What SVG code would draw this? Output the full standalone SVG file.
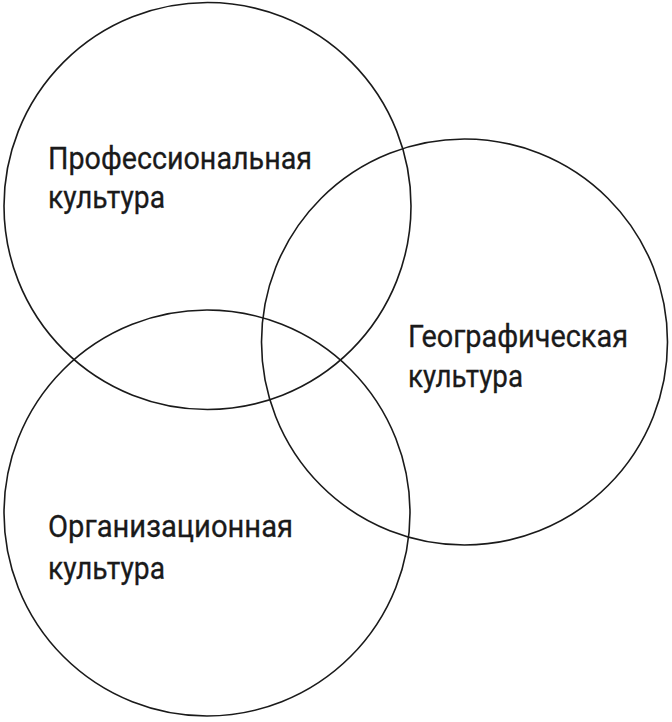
<svg xmlns="http://www.w3.org/2000/svg" width="672" height="722" viewBox="0 0 672 722">
<style>
.c{fill:none;stroke:#1a1a1a;stroke-width:1.6}
.t{font-family:Roboto,"Liberation Sans",sans-serif;font-size:31px;font-weight:400;fill:#1a1a1a;stroke:#1a1a1a;stroke-width:0.3}
</style>
<rect width="672" height="722" fill="#fff"/>
<g id="professional">
<circle class="c" cx="207.5" cy="206" r="203.5"/>
<text class="t" x="48" y="169" textLength="264" lengthAdjust="spacingAndGlyphs">Профессиональная</text>
<text class="t" x="48" y="208" textLength="117" lengthAdjust="spacingAndGlyphs">культура</text>
</g>
<g id="geographic">
<circle class="c" cx="464.5" cy="342" r="203"/>
<text class="t" x="408" y="347" textLength="220" lengthAdjust="spacingAndGlyphs">Географическая</text>
<text class="t" x="408" y="387" textLength="115" lengthAdjust="spacingAndGlyphs">культура</text>
</g>
<g id="organizational">
<circle class="c" cx="207" cy="513" r="203"/>
<text class="t" x="48" y="537" textLength="245" lengthAdjust="spacingAndGlyphs">Организационная</text>
<text class="t" x="48" y="579" textLength="117" lengthAdjust="spacingAndGlyphs">культура</text>
</g>
<g id="connectors"/>
</svg>
